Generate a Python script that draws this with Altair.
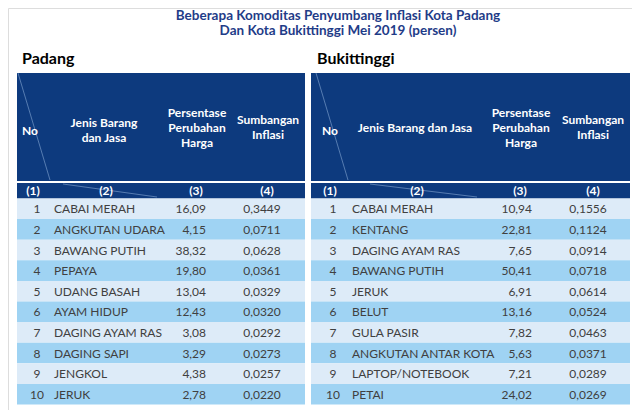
import altair as alt
import pandas as pd

# ---------------- data ----------------
title_lines = ["Beberapa Komoditas Penyumbang Inflasi Kota Padang",
               "Dan Kota Bukittinggi Mei 2019 (persen)"]
cities = ["Padang", "Bukittinggi"]
col_ids = ["(1)", "(2)", "(3)", "(4)"]

padang_items = ["CABAI MERAH", "ANGKUTAN UDARA", "BAWANG PUTIH", "PEPAYA", "UDANG BASAH",
                "AYAM HIDUP", "DAGING AYAM RAS", "DAGING SAPI", "JENGKOL", "JERUK"]
padang_pct = ["16,09", "4,15", "38,32", "19,80", "13,04", "12,43", "3,08", "3,29", "4,38", "2,78"]
padang_contrib = ["0,3449", "0,0711", "0,0628", "0,0361", "0,0329", "0,0320", "0,0292", "0,0273", "0,0257", "0,0220"]

bukit_items = ["CABAI MERAH", "KENTANG", "DAGING AYAM RAS", "BAWANG PUTIH", "JERUK",
               "BELUT", "GULA PASIR", "ANGKUTAN ANTAR KOTA", "LAPTOP/NOTEBOOK", "PETAI"]
bukit_pct = ["10,94", "22,81", "7,65", "50,41", "6,91", "13,16", "7,82", "5,63", "7,21", "24,02"]
bukit_contrib = ["0,1556", "0,1124", "0,0914", "0,0718", "0,0614", "0,0524", "0,0463", "0,0371", "0,0289", "0,0269"]

# ---------------- layout ----------------
FONT = "Lato"
NAVY = "#0D3A7E"
LIGHT = "#DDEBF8"
DARK = "#9FD3F3"
TXT = "#404040"
BODY = 12
HEAD = 12

HDR_TOP, HDR_BOT = 73, 181
SUB_TOP, SUB_BOT = 183, 198.5
ROW_TOP, ROW_H = 198.5, 20.6

tables = [
    dict(city=cities[0], cx=22, x0=17, x1=305,
         no=37, name=54, pct=206, con=262,
         h_no=30, h_name=104, h_pct=197, h_con=268,
         s=[33, 106, 196, 267],
         header_name=["Jenis Barang", "dan Jasa"],
         items=padang_items, pcts=padang_pct, cons=padang_contrib,
         diag=[(18, 73, 50, 180), (63, 184, 157, 197)]),
    dict(city=cities[1], cx=317, x0=311, x1=630,
         no=333, name=352, pct=532, con=588,
         h_no=330, h_name=415, h_pct=521, h_con=593,
         s=[330, 417, 520, 593],
         header_name=["Jenis Barang  dan Jasa"],
         items=bukit_items, pcts=bukit_pct, cons=bukit_contrib,
         diag=[(316, 73, 348, 180), (370, 184, 477, 197)]),
]

rects, hdr_txt, row_txt_left, row_txt_right, row_txt_center, rules = [], [], [], [], [], []
city_txt = []
for t in tables:
    city_txt.append(dict(x=t["cx"], y=59, text=t["city"]))
    rects.append(dict(x=t["x0"], x2=t["x1"], y=HDR_TOP, y2=HDR_BOT, c=NAVY))
    rects.append(dict(x=t["x0"], x2=t["x1"], y=SUB_TOP, y2=SUB_BOT, c=NAVY))
    # header texts
    hdr_txt.append(dict(x=t["h_no"], y=131, text="No"))
    n = len(t["header_name"])
    for k, line in enumerate(t["header_name"]):
        yy = 128 if n == 1 else 123 + k * 15
        hdr_txt.append(dict(x=t["h_name"], y=yy, text=line))
    for k, line in enumerate(["Persentase", "Perubahan", "Harga"]):
        hdr_txt.append(dict(x=t["h_pct"], y=113 + k * 15, text=line))
    for k, line in enumerate(["Sumbangan", "Inflasi"]):
        hdr_txt.append(dict(x=t["h_con"], y=120 + k * 14.5, text=line))
    for k, cid in enumerate(col_ids):
        hdr_txt.append(dict(x=t["s"][k], y=191, text=cid))
    for (a, b, c, d) in t["diag"]:
        rules.append(dict(x=a, y=b, x2=c, y2=d))
    for i in range(len(t["items"])):
        top = ROW_TOP + i * ROW_H
        rects.append(dict(x=t["x0"], x2=t["x1"], y=top, y2=top + ROW_H,
                          c=LIGHT if i % 2 == 0 else DARK))
        yc = top + ROW_H / 2 + 0.5
        row_txt_center.append(dict(x=t["no"], y=yc, text=str(i + 1)))
        row_txt_left.append(dict(x=t["name"], y=yc, text=t["items"][i]))
        row_txt_right.append(dict(x=t["pct"], y=yc, text=t["pcts"][i]))
        row_txt_center.append(dict(x=t["con"], y=yc, text=t["cons"][i]))

title_df = pd.DataFrame([dict(x=338, y=16 + k * 15, text=s) for k, s in enumerate(title_lines)])

xs = alt.Scale(domain=[8, 632], nice=False, zero=False)
ys = alt.Scale(domain=[8, 410], nice=False, zero=False, reverse=True)
X = lambda f="x": alt.X(f"{f}:Q", scale=xs, axis=None)
Y = lambda f="y": alt.Y(f"{f}:Q", scale=ys, axis=None)

rect_layer = alt.Chart(pd.DataFrame(rects)).mark_rect(strokeWidth=0).encode(
    x=X(), x2="x2:Q", y=Y(), y2="y2:Q",
    color=alt.Color("c:N", scale=None))

rule_layer = alt.Chart(pd.DataFrame(rules)).mark_rule(
    color="#8FB0DA", strokeWidth=0.8, opacity=0.7).encode(
    x=X(), y=Y(), x2="x2:Q", y2="y2:Q")

def text_layer(rows, align, color, size, weight, font=FONT):
    return alt.Chart(pd.DataFrame(rows)).mark_text(
        align=align, baseline="middle", color=color, fontSize=size,
        fontWeight=weight, font=font).encode(x=X(), y=Y(), text="text:N")

chart = alt.layer(
    rect_layer,
    rule_layer,
    text_layer(title_df.to_dict("records"), "center", "#1F3C88", 13.5, "bold"),
    text_layer(city_txt, "left", "#000000", 16, "bold"),
    text_layer(hdr_txt, "center", "#FFFFFF", HEAD, "bold"),
    text_layer(row_txt_left, "left", TXT, BODY, "normal"),
    text_layer(row_txt_right, "right", TXT, BODY, "normal"),
    text_layer(row_txt_center, "center", TXT, BODY, "normal"),
).properties(
    width=624, height=402, padding=0,
    autosize=alt.AutoSizeParams(type="none"),
).configure_view(stroke=None).configure(background="#FFFFFF")

chart.save("out.html", embed_options={"renderer": "svg", "actions": False})
